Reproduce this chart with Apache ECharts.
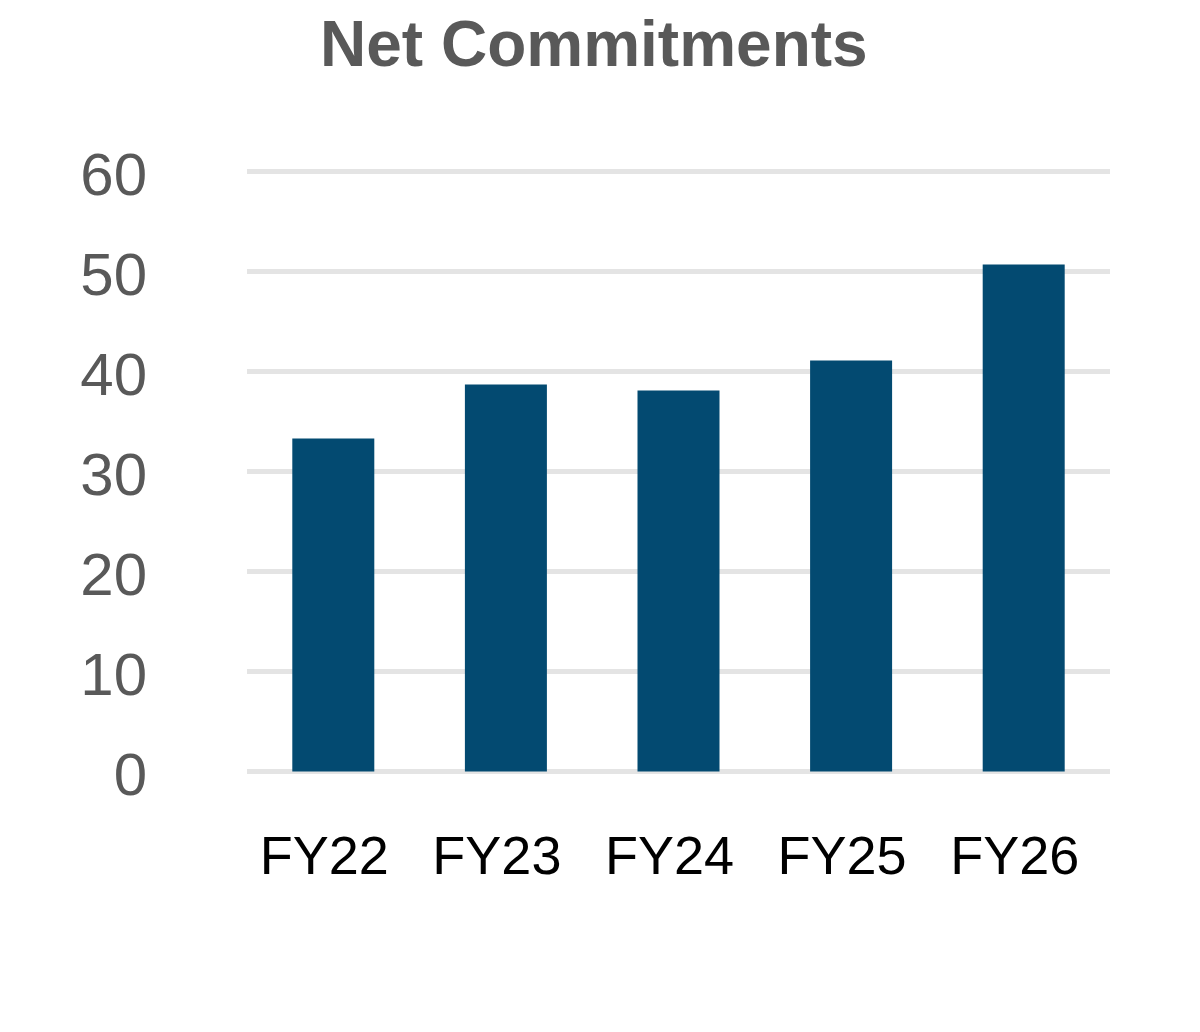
<!DOCTYPE html>
<html>
<head>
<meta charset="utf-8">
<script src="https://cdn.jsdelivr.net/npm/echarts@6/dist/echarts.min.js"></script>
<style>
html,body{margin:0;padding:0;background:#fff;}
#chart{width:1200px;height:1032px;}
</style>
</head>
<body>
<div id="chart"></div>
<script>
const titleText = 'Net Commitments';
const categories = ['FY22', 'FY23', 'FY24', 'FY25', 'FY26'];
const netCommitments = [33.3, 38.7, 38.1, 41.1, 50.7];
const yTicks = { min: 0, max: 60, interval: 10 };

const chart = echarts.init(document.getElementById('chart'));
chart.setOption({
  backgroundColor: '#ffffff',
  animation: false,
  title: {
    text: titleText,
    left: 320,
    top: 16,
    padding: 0,
    textStyle: {
      fontFamily: 'Liberation Sans, Arial, sans-serif',
      fontWeight: 'bold',
      fontSize: 64,
      color: '#595959'
    }
  },
  grid: { left: 247, right: 90, top: 171.5, bottom: 260.5, containLabel: false },
  xAxis: {
    type: 'category',
    data: categories,
    axisLine: { show: false },
    axisTick: { show: false },
    axisLabel: {
      margin: 61,
      padding: [0, 18, 0, 0],
      fontFamily: 'Liberation Sans, Arial, sans-serif',
      fontSize: 54,
      color: '#000000'
    }
  },
  yAxis: {
    type: 'value',
    min: yTicks.min,
    max: yTicks.max,
    interval: yTicks.interval,
    axisLine: { show: false },
    axisTick: { show: false },
    axisLabel: {
      margin: 100,
      formatter: '{v|{value}}',
      rich: {
        v: {
          padding: [14, 0, 0, 0],
          fontFamily: 'Liberation Sans, Arial, sans-serif',
          fontSize: 60,
          color: '#595959'
        }
      }
    },
    splitLine: { lineStyle: { color: '#e4e4e4', width: 5 } }
  },
  series: [{
    type: 'bar',
    data: netCommitments,
    barWidth: 82,
    itemStyle: { color: '#034A71' }
  }]
});
</script>
</body>
</html>
